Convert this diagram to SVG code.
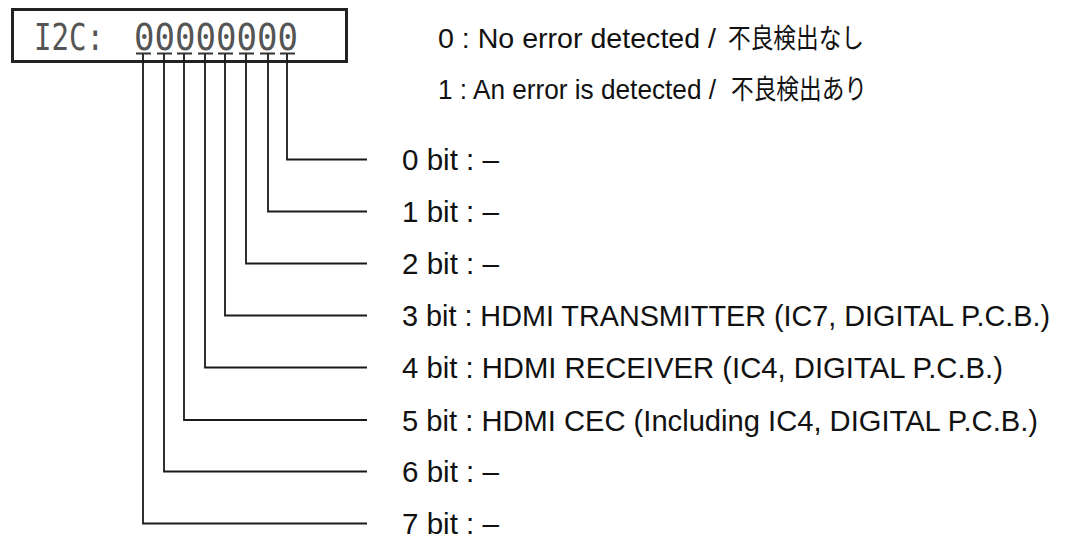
<svg xmlns="http://www.w3.org/2000/svg" width="1072" height="547" viewBox="0 0 1072 547">
  <style>
    .lbl { font-family: "Liberation Sans", Arial, sans-serif; font-size: 29px; fill: #111; }
    .leg { font-family: "Liberation Sans", Arial, sans-serif; font-size: 28px; fill: #111; }
    .cjk { font-family: "Noto Sans CJK JP", "Liberation Sans", sans-serif; font-size: 27px; }
    .lcd { font-family: "DejaVu Sans Mono", "Liberation Mono", monospace; font-size: 38px; fill: #555; }
    .wire { stroke: #1a1a1a; stroke-width: 1.8; fill: none; }
    .bar { stroke: #333; stroke-width: 2; }
  </style>
  <rect width="1072" height="547" fill="#fff"/>

  <g id="display">
    <rect x="12.5" y="9.5" width="334" height="52" fill="none" stroke="#222" stroke-width="3"/>
    <text class="lcd" x="34" y="50" textLength="70" lengthAdjust="spacingAndGlyphs">I2C:</text>
    <text class="lcd" x="134" y="50" textLength="164" lengthAdjust="spacingAndGlyphs">00000000</text>
    <g class="bar">
      <line x1="136" y1="53.5" x2="151" y2="53.5"/>
      <line x1="157" y1="53.5" x2="172" y2="53.5"/>
      <line x1="177" y1="53.5" x2="192" y2="53.5"/>
      <line x1="198" y1="53.5" x2="213" y2="53.5"/>
      <line x1="218" y1="53.5" x2="233" y2="53.5"/>
      <line x1="239" y1="53.5" x2="254" y2="53.5"/>
      <line x1="260" y1="53.5" x2="275" y2="53.5"/>
      <line x1="280" y1="53.5" x2="295" y2="53.5"/>
    </g>
  </g>

  <g id="legend">
    <text class="leg" y="48"><tspan x="438" textLength="278" lengthAdjust="spacingAndGlyphs">0 : No error detected /</tspan><tspan class="cjk" x="728" textLength="136" lengthAdjust="spacingAndGlyphs">不良検出なし</tspan></text>
    <text class="leg" y="99"><tspan x="438" textLength="278" lengthAdjust="spacingAndGlyphs">1 : An error is detected /</tspan><tspan class="cjk" x="731" textLength="136" lengthAdjust="spacingAndGlyphs">不良検出あり</tspan></text>
  </g>

  <g id="connectors">
    <path class="wire" d="M287,54 V159.5 H367"/>
    <path class="wire" d="M268,54 V211.5 H367"/>
    <path class="wire" d="M246,54 V263.5 H367"/>
    <path class="wire" d="M225,54 V315.5 H367"/>
    <path class="wire" d="M205,54 V367.5 H367"/>
    <path class="wire" d="M184,54 V420 H367"/>
    <path class="wire" d="M164,54 V471.5 H367"/>
    <path class="wire" d="M143,54 V523.5 H367"/>
  </g>

  <g id="bit0"><text class="lbl" x="402" y="170" textLength="97" lengthAdjust="spacingAndGlyphs">0 bit : –</text></g>
  <g id="bit1"><text class="lbl" x="402" y="222" textLength="97" lengthAdjust="spacingAndGlyphs">1 bit : –</text></g>
  <g id="bit2"><text class="lbl" x="402" y="274" textLength="97" lengthAdjust="spacingAndGlyphs">2 bit : –</text></g>
  <g id="bit3"><text class="lbl" x="402" y="326" textLength="648" lengthAdjust="spacingAndGlyphs">3 bit : HDMI TRANSMITTER (IC7, DIGITAL P.C.B.)</text></g>
  <g id="bit4"><text class="lbl" x="402" y="378" textLength="601" lengthAdjust="spacingAndGlyphs">4 bit : HDMI RECEIVER (IC4, DIGITAL P.C.B.)</text></g>
  <g id="bit5"><text class="lbl" x="402" y="431" textLength="636" lengthAdjust="spacingAndGlyphs">5 bit : HDMI CEC (Including IC4, DIGITAL P.C.B.)</text></g>
  <g id="bit6"><text class="lbl" x="402" y="482" textLength="97" lengthAdjust="spacingAndGlyphs">6 bit : –</text></g>
  <g id="bit7"><text class="lbl" x="402" y="534" textLength="97" lengthAdjust="spacingAndGlyphs">7 bit : –</text></g>
</svg>
